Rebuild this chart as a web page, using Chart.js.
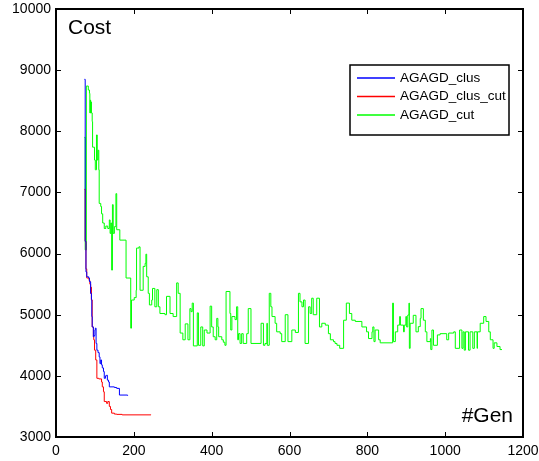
<!DOCTYPE html>
<html lang="en">

<head>
    <meta charset="UTF-8">
    <title>AGAGD cost vs generation</title>
    <script src="https://cdn.jsdelivr.net/npm/chart.js"></script>
    <style>
        body {
            margin: 0;
            background: #ffffff;
        }

        #chartContainer {
            width: 539px;
            height: 461px;
        }
    </style>
</head>

<body>
    <div id="chartContainer">
        <canvas id="myChart" width="539" height="461"></canvas>
    </div>
    <script>
        // Best cost per generation (generation, cost)
        const clusGen = [73, 75, 77, 79, 84, 86, 89, 91, 92, 93, 96, 98, 100, 101, 103, 105, 108, 111, 113, 115, 117, 119, 122, 124, 127, 130, 132, 135, 137, 150, 156, 163, 184];
        const clusCost = [8850, 6200, 5700, 5620, 5600, 5540, 5350, 5250, 4970, 4800, 4640, 4660, 4750, 4780, 4530, 4420, 4380, 4310, 4200, 4260, 4180, 4130, 4070, 3960, 4000, 4010, 3930, 3900, 3820, 3810, 3795, 3686, 3675];

        const clusCutGen = [73, 75, 77, 79, 85, 87, 89, 90, 91, 93, 96, 97, 99, 102, 105, 110, 117, 119, 122, 124, 130, 133, 137, 140, 143, 150, 156, 170, 244];
        const clusCutCost = [7050, 6200, 5750, 5600, 5560, 5500, 5350, 5450, 5240, 4800, 4640, 4590, 4420, 4260, 3960, 3950, 3900, 3820, 3740, 3580, 3550, 3580, 3500, 3450, 3390, 3375, 3370, 3362, 3360];

        const cutGen = [
            73, 75, 78, 83, 86, 87, 88, 89, 90, 91, 93, 94, 99, 101, 104, 106, 108, 110, 111, 115,
            117, 120, 124, 128, 133, 137, 139, 141, 143, 145, 147, 150, 154, 156, 164, 180, 192, 194, 201, 206,
            207, 213, 216, 224, 229, 231, 233, 237, 240, 246, 248, 254, 259, 263, 267, 280, 284, 293, 301, 310,
            314, 319, 326, 332, 339, 344, 347, 350, 353, 363, 366, 372, 377, 381, 388, 396, 400, 404, 409, 413,
            416, 418, 426, 430, 434, 437, 447, 449, 452, 460, 464, 467, 469, 473, 477, 481, 490, 494, 501, 527,
            533, 537, 542, 543, 548, 552, 555, 563, 567, 576, 580, 589, 596, 606, 615, 623, 627, 632, 636, 640,
            649, 653, 657, 661, 670, 677, 683, 692, 700, 705, 713, 717, 722, 729, 739, 746, 754, 760, 769, 786,
            798, 803, 812, 814, 817, 820, 829, 833, 865, 867, 872, 878, 883, 885, 893, 895, 899, 901, 904, 907,
            908, 910, 918, 925, 931, 936, 938, 944, 949, 953, 962, 963, 966, 970, 980, 987, 1004, 1009, 1022, 1026,
            1037, 1043, 1046, 1049, 1052, 1060, 1064, 1071, 1075, 1082, 1083, 1090, 1099, 1105, 1112, 1116, 1123, 1126, 1133, 1141,
            1146
        ];
        const cutCost = [
            7900, 6060, 8740, 8675, 8620, 8300, 8510, 8300, 8480, 8300, 8160, 7740, 7530, 7370, 7940, 7530, 7690, 7370, 6820, 6770,
            6650, 6500, 6410, 6450, 6410, 6550, 6330, 6500, 5730, 6800, 6330, 6440, 6980, 6390, 6220, 5600, 4780, 5240, 5280, 5400,
            6090, 6110, 5400, 5790, 5840, 5990, 5620, 5350, 5160, 5240, 5430, 5130, 5410, 5130, 5020, 5000, 5300, 5020, 4970, 5520,
            5350, 4700, 4590, 4850, 4590, 5100, 5050, 5190, 4490, 5030, 4500, 4800, 4490, 4750, 4700, 5140, 4800, 4640, 4590, 4940,
            4800, 4640, 4590, 4550, 4500, 5380, 5020, 4750, 4970, 4920, 5130, 4590, 4690, 4530, 4690, 4530, 4690, 5100, 4530, 4860,
            4500, 4530, 4860, 4500, 5350, 5130, 4970, 4860, 4720, 4690, 4560, 5000, 4560, 4750, 4710, 5350, 5210, 5130, 5240, 4530,
            5130, 5020, 5270, 5000, 5270, 4800, 4860, 4830, 4690, 4590, 4560, 4530, 4500, 4450, 4910, 5190, 5020, 4910, 4890, 4800,
            4720, 4610, 4720, 4800, 4560, 4750, 4590, 4540, 5190, 4560, 4720, 4830, 4970, 4830, 4720, 4830, 4970, 4800, 4995, 5190,
            4450, 4860, 4990, 4720, 4805, 4940, 5100, 4910, 4720, 4560, 4610, 4430, 4750, 4500, 4670, 4690, 4590, 4700, 4720, 4450,
            4750, 4450, 4720, 4420, 4720, 4420, 4720, 4450, 4720, 4450, 4720, 4860, 4970, 4890, 4720, 4590, 4450, 4540, 4480, 4430,
            4430
        ];

        const seriesNames = ['AGAGD_clus', 'AGAGD_clus_cut', 'AGAGD_cut'];
        const seriesColors = ['#0000ff', '#ff0000', '#00ff00'];
        const xTicks = [0, 200, 400, 600, 800, 1000, 1200];
        const yTicks = [3000, 4000, 5000, 6000, 7000, 8000, 9000, 10000];

        const toPoints = (gens, costs) => gens.map((g, i) => ({ x: g, y: costs[i] }));
        const font = "'Liberation Sans', Arial, sans-serif";

        // MATLAB style box: frame, inward ticks, legend inside and axis captions
        const boxPlugin = {
            id: 'boxPlugin',
            afterDraw(chart) {
                const { ctx, chartArea: a, scales: { x, y } } = chart;
                ctx.save();
                ctx.strokeStyle = '#000000';
                ctx.lineWidth = 1;
                ctx.beginPath();
                xTicks.forEach((v) => {
                    const px = Math.round(x.getPixelForValue(v)) + 0.5;
                    ctx.moveTo(px, a.bottom);
                    ctx.lineTo(px, a.bottom - 5);
                    ctx.moveTo(px, a.top);
                    ctx.lineTo(px, a.top + 5);
                });
                yTicks.forEach((v) => {
                    const py = Math.round(y.getPixelForValue(v)) + 0.5;
                    ctx.moveTo(a.left, py);
                    ctx.lineTo(a.left + 5, py);
                    ctx.moveTo(a.right, py);
                    ctx.lineTo(a.right - 5, py);
                });
                ctx.stroke();
                ctx.lineWidth = 2;
                ctx.strokeRect(a.left, a.top, a.right - a.left, a.bottom - a.top);

                // captions
                ctx.fillStyle = '#000000';
                ctx.font = '21px ' + font;
                ctx.textBaseline = 'alphabetic';
                ctx.textAlign = 'left';
                ctx.fillText('Cost', 68, 34);
                ctx.textAlign = 'right';
                ctx.fillText('#Gen', 513, 422);

                // legend
                const lx = 350, ly = 65, lw = 159, lh = 70;
                ctx.fillStyle = '#ffffff';
                ctx.fillRect(lx, ly, lw, lh);
                ctx.lineWidth = 1.5;
                ctx.strokeStyle = '#000000';
                ctx.strokeRect(lx, ly, lw, lh);
                ctx.font = '13.5px ' + font;
                ctx.textAlign = 'left';
                ctx.textBaseline = 'middle';
                seriesNames.forEach((name, i) => {
                    const rowY = 78 + i * 18.5;
                    ctx.lineWidth = 1.3;
                    ctx.strokeStyle = seriesColors[i];
                    ctx.beginPath();
                    ctx.moveTo(357, rowY);
                    ctx.lineTo(395, rowY);
                    ctx.stroke();
                    ctx.fillStyle = '#000000';
                    ctx.fillText(name, 400, rowY);
                });
                ctx.restore();
            }
        };

        const plainLabel = (value) => String(value);

        const ctx = document.getElementById('myChart').getContext('2d');
        const myChart = new Chart(ctx, {
            type: 'line',
            data: {
                datasets: [{
                    label: seriesNames[0],
                    data: toPoints(clusGen, clusCost),
                    borderColor: seriesColors[0],
                    borderWidth: 1,
                    stepped: 'before',
                    pointRadius: 0
                }, {
                    label: seriesNames[1],
                    data: toPoints(clusCutGen, clusCutCost),
                    borderColor: seriesColors[1],
                    borderWidth: 1,
                    stepped: 'before',
                    pointRadius: 0
                }, {
                    label: seriesNames[2],
                    data: toPoints(cutGen, cutCost),
                    borderColor: seriesColors[2],
                    borderWidth: 1,
                    stepped: 'before',
                    pointRadius: 0
                }]
            },
            options: {
                responsive: false,
                animation: false,
                devicePixelRatio: 1,
                layout: {
                    padding: { top: 9, right: 16, bottom: 0, left: 0 }
                },
                plugins: {
                    legend: { display: false },
                    tooltip: { enabled: false }
                },
                scales: {
                    x: {
                        type: 'linear',
                        min: 0,
                        max: 1200,
                        afterFit: (scale) => {
                            scale.height = 24;
                            scale.paddingLeft = 0;
                            scale.paddingRight = 0;
                        },
                        afterBuildTicks: (scale) => { scale.ticks = xTicks.map((v) => ({ value: v })); },
                        grid: { display: false, drawTicks: false },
                        border: { display: false },
                        ticks: {
                            color: '#000000',
                            padding: 6,
                            maxRotation: 0,
                            callback: plainLabel,
                            font: { family: font, size: 14 }
                        }
                    },
                    y: {
                        type: 'linear',
                        min: 3000,
                        max: 10000,
                        afterFit: (scale) => {
                            scale.width = 56;
                            scale.paddingTop = 0;
                            scale.paddingBottom = 0;
                        },
                        afterBuildTicks: (scale) => { scale.ticks = yTicks.map((v) => ({ value: v })); },
                        grid: { display: false, drawTicks: false },
                        border: { display: false },
                        ticks: {
                            color: '#000000',
                            padding: 5,
                            callback: plainLabel,
                            font: { family: font, size: 14 }
                        }
                    }
                }
            },
            plugins: [boxPlugin]
        });
    </script>

</body>

</html>
